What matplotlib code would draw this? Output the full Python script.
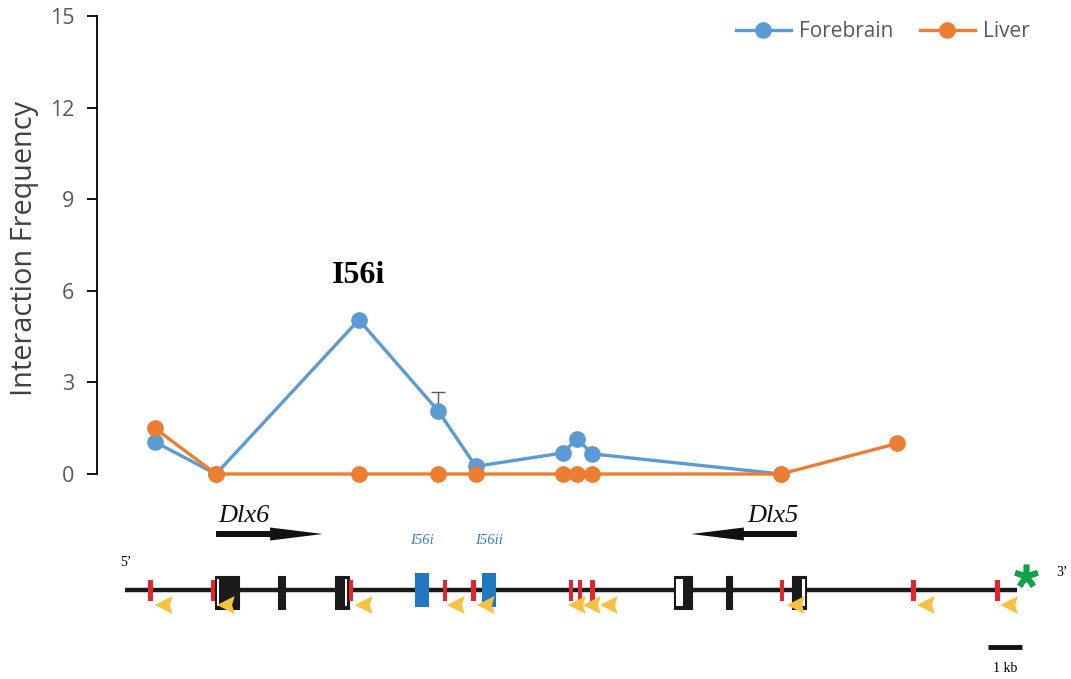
import matplotlib
matplotlib.use("Agg")
import matplotlib.pyplot as plt
from matplotlib.patches import Rectangle, Polygon

# ---- 4C-style interaction data (x in kb along the Dlx5/6 locus) ----
pos_kb = [0.88, 2.68, 6.88, 9.21, 10.32, 12.88, 13.29, 13.74, 19.29, 22.71]
forebrain = [1.05, 0.0, 5.05, 2.07, 0.25, 0.69, 1.16, 0.66, 0.0]
forebrain_err = [0.0, 0.0, 0.0, 0.62, 0.15, 0.0, 0.0, 0.0, 0.0]
liver = [1.5, 0.0, 0.0, 0.0, 0.0, 0.0, 0.0, 0.0, 0.0, 1.0]
y_ticks = [0, 3, 6, 9, 12, 15]
peak_label = "I56i"

# ---- locus map (kb) ----
locus_end = 26.24
restriction_sites = [0.76, 2.59, 6.65, 9.41, 10.26, 13.12, 13.38, 13.74, 19.32, 23.18, 25.65]
primers = [0.88, 2.71, 6.76, 9.47, 10.35, 13.03, 13.47, 13.97, 19.47, 23.29, 25.74]
exons = [(2.65, 3.35), (4.50, 4.71), (6.18, 6.59), (16.15, 16.68), (17.68, 17.85), (19.62, 20.03)]
utr_stripes = [(2.71, 2.77), (6.47, 6.53), (16.21, 16.41), (19.91, 19.99)]
enhancers = [(8.53, 8.94), (10.50, 10.91)]
enhancer_names = ["I56i", "I56ii"]
genes = [("Dlx6", 2.68, 5.82, 2.74), ("Dlx5", 19.76, 16.65, 18.29)]  # name, start, end, label x
scale_bar = (25.38, 26.38)

BLUE = "#5B9BD5"
ORANGE = "#ED7D31"
GREY = "#595959"

W, H = 1071, 679
fig = plt.figure(figsize=(W / 100, H / 100), dpi=100)
XLIM = (-0.82, 27.82)

# ---------------- interaction profile ----------------
ax = fig.add_axes([97 / W, 205 / H, 974 / W, 458 / H])
ax.set_xlim(*XLIM)
ax.set_ylim(0, 15)

ax.errorbar(pos_kb[:len(forebrain)], forebrain,
            yerr=[[0] * len(forebrain), forebrain_err],
            fmt="none", ecolor=GREY, elinewidth=1.0, capsize=5, capthick=1.0, zorder=2)
ax.plot(pos_kb[:len(forebrain)], forebrain, "-o", color=BLUE, lw=2.4, ms=11,
        label="Forebrain", clip_on=False, zorder=3)
ax.plot(pos_kb, liver, "-o", color=ORANGE, lw=2.4, ms=11,
        label="Liver", clip_on=False, zorder=4)

ax.text(pos_kb[2], 6.5, peak_label, ha="center", va="center",
        fontsize=23, fontweight="bold", family="Liberation Serif")

for s in ("top", "right", "bottom"):
    ax.spines[s].set_visible(False)
ax.spines["left"].set_linewidth(1.3)
ax.set_xticks([])
ax.set_yticks(y_ticks)
ax.tick_params(axis="y", direction="out", length=7, width=1.3, pad=9.5,
               labelsize=15.5, labelcolor=GREY)
for lab in ax.get_yticklabels():
    lab.set_family("Open Sans")
ax.set_ylabel("Interaction Frequency", fontsize=20.8, color="#404040",
              family="Open Sans")
ax.yaxis.set_label_coords(-0.060, 0.4935)

leg = ax.legend(loc="upper right", bbox_to_anchor=(0.958, 0.989), ncol=2,
                frameon=False, borderpad=0.0, borderaxespad=0.0,
                handlelength=2.65, handletextpad=0.4,
                columnspacing=1.25, prop={"family": "Open Sans", "size": 15})
for t in leg.get_texts():
    t.set_color(GREY)

# ---------------- locus map ----------------
tr = fig.add_axes([97 / W, 0, 974 / W, 189 / H])
tr.set_xlim(*XLIM)
tr.set_ylim(-89, 100)
tr.axis("off")

tr.plot([0, locus_end], [0, 0], color="#1a1a1a", lw=3.2, solid_capstyle="butt", zorder=1)

for a, b in exons:
    tr.add_patch(Rectangle((a, -19), b - a, 33, facecolor="#1a1a1a",
                           edgecolor="#1a1a1a", lw=0.8, zorder=3))
for a, b in utr_stripes:
    tr.add_patch(Rectangle((a, -16), b - a, 27, facecolor="white",
                           edgecolor="none", zorder=4))
for (a, b), name in zip(enhancers, enhancer_names):
    tr.add_patch(Rectangle((a, -17), b - a, 34, facecolor="#1F78C1",
                           edgecolor="none", zorder=3))
    tr.text((a + b) / 2, 49, name, ha="center", va="center", fontsize=10.5,
            style="italic", family="Liberation Serif", color="#3C7DC0")

for x in restriction_sites:
    tr.add_patch(Rectangle((x - 0.07, -11), 0.14, 21, facecolor="#E3262B",
                           edgecolor="none", zorder=5))

pw, ph = 0.52, 18
for x in primers:
    tr.add_patch(Polygon([(x, -15), (x + pw, -15 + ph / 2), (x + pw * 0.85, -15),
                          (x + pw, -15 - ph / 2)], closed=True,
                         facecolor="#F8C240", edgecolor="none", zorder=6))

for name, x0, x1, lx in genes:
    d = 1 if x1 > x0 else -1
    head = 1.55
    sw, hw = 3.0, 6.5
    yc = 56
    hx = x1 - d * head
    tr.add_patch(Polygon([(x0, yc - sw), (hx, yc - sw), (hx, yc - hw), (x1, yc),
                          (hx, yc + hw), (hx, yc + sw), (x0, yc + sw)],
                         closed=True, facecolor="#111111", edgecolor="none"))
    tr.text(lx, 68, name, ha="left", va="baseline", fontsize=19,
            style="italic", family="Liberation Serif", color="#111111")

tr.text(0.03, 28, "5\u2019", ha="center", va="center", fontsize=10,
        family="Liberation Serif")
tr.text(27.56, 17, "3\u2019", ha="center", va="center", fontsize=10,
        family="Liberation Serif")
tr.plot([26.5], [14], marker=(5, 2, 0), ms=17, mew=4.0, color="#0FA34A",
        linestyle="none")

tr.plot(scale_bar, [-57, -57], color="#111111", lw=3.5, solid_capstyle="butt")
tr.text(sum(scale_bar) / 2, -78, "1 kb", ha="center", va="center", fontsize=10,
        family="Liberation Serif")

fig.savefig("out.png", dpi=100)
